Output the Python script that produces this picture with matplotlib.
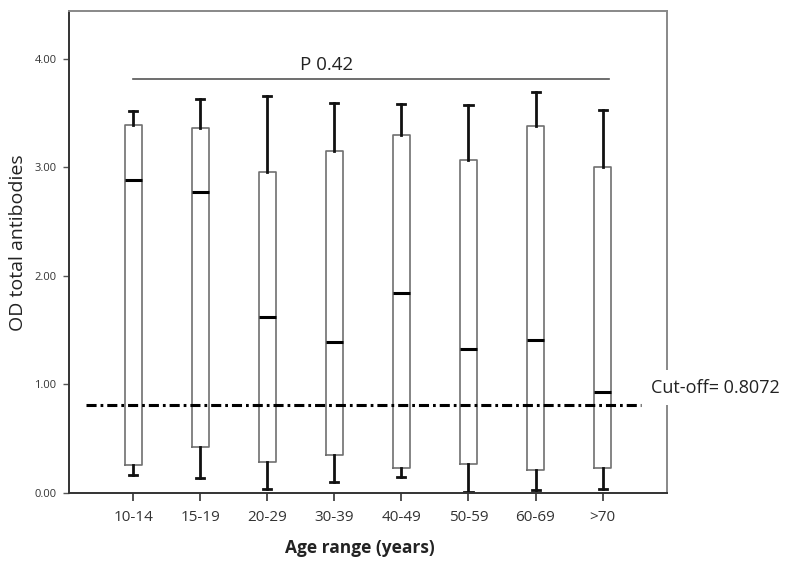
import matplotlib
matplotlib.use("Agg")
import matplotlib.pyplot as plt

# values
age_groups = ["10-14", "15-19", "20-29", "30-39", "40-49", "50-59", "60-69", ">70"]
whisker_low = [0.17, 0.14, 0.04, 0.10, 0.15, 0.01, 0.03, 0.04]
q1 = [0.26, 0.42, 0.29, 0.35, 0.23, 0.27, 0.21, 0.23]
medians = [2.88, 2.77, 1.62, 1.39, 1.84, 1.33, 1.41, 0.93]
q3 = [3.39, 3.36, 2.96, 3.15, 3.30, 3.07, 3.38, 3.00]
whisker_high = [3.52, 3.63, 3.66, 3.59, 3.58, 3.57, 3.69, 3.53]
y_ticks = [0.0, 1.0, 2.0, 3.0, 4.0]
cutoff = 0.8072
p_value = 0.42

stats = []
for i, name in enumerate(age_groups):
    stats.append({
        'label': name,
        'whislo': whisker_low[i],
        'q1': q1[i],
        'med': medians[i],
        'q3': q3[i],
        'whishi': whisker_high[i],
        'fliers': [],
    })

fig = plt.figure(figsize=(7.93, 5.67), dpi=100)
ax = fig.add_axes([0.087, 0.1305, 0.754, 0.85])

pos = list(range(len(age_groups)))
ax.bxp(stats, positions=pos, widths=0.26, showfliers=False,
       boxprops=dict(color='#707070', linewidth=1.2),
       medianprops=dict(color='black', linewidth=2.2),
       whiskerprops=dict(color='#111111', linewidth=2.0),
       capprops=dict(color='#111111', linewidth=2.0),
       capwidths=0.12)

ax.set_xlim(-0.96, 7.96)
ax.set_ylim(0, 4.44)

# cut-off line
ax.plot([-0.70, 7.58], [cutoff, cutoff], color='black', linewidth=2.2,
        linestyle=(0, (3.3, 1.3, 0.9, 1.3)))
ax.text(7.73, 0.97, f"Cut-off= {cutoff}", fontsize=13, va='center', ha='left',
        family='Open Sans', color='#222222', zorder=5,
        bbox=dict(facecolor='white', edgecolor='none', pad=6))

# p value bracket
ax.plot([0, 7.1], [3.81, 3.81], color='#555555', linewidth=1.2)
ax.text(2.88, 3.94, f"P {p_value}", fontsize=13.5, ha='center', va='center',
        family='Open Sans', color='#222222')

ax.set_yticks(y_ticks)
ax.set_yticklabels([f"{v:.2f}" for v in y_ticks], fontsize=8, color='#333333',
                   family='Open Sans')
ax.set_xticks(pos)
ax.set_xticklabels(age_groups, fontsize=11, color='#333333', family='Open Sans')
ax.tick_params(axis='y', length=4, width=1, color='#555555', pad=5)
ax.tick_params(axis='x', length=6, width=1.2, color='#333333', pad=6)

for side in ['top', 'right']:
    ax.spines[side].set_color('#888888')
    ax.spines[side].set_linewidth(1.4)
for side in ['left', 'bottom']:
    ax.spines[side].set_color('#333333')
    ax.spines[side].set_linewidth(1.4)

ax.set_ylabel("OD total antibodies", fontsize=14, family='Open Sans',
              color='#222222')
ax.yaxis.set_label_coords(-0.07, 0.52)
ax.set_xlabel("Age range (years)", fontsize=12.5, fontweight='bold',
              family='Open Sans', color='#222222')
ax.xaxis.set_label_coords(0.487, -0.095)

fig.savefig("out.png", dpi=100)
